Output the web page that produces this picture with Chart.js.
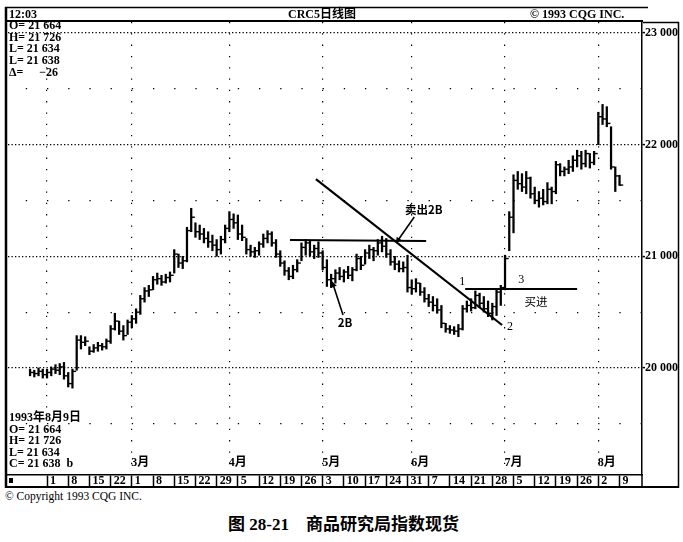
<!DOCTYPE html>
<html>
<head>
<meta charset="utf-8">
<script src="https://cdn.jsdelivr.net/npm/chart.js@4.4.0/dist/chart.umd.min.js"></script>
<style>
  body { margin: 0; background: #fff; width: 683px; height: 542px; overflow: hidden; position: relative; }
  #chart { position: absolute; left: 0; top: 0; }
  #copy { position: absolute; left: 5px; top: 490px; font: 11.5px "Liberation Serif", serif; color: #000; }
  #cap { position: absolute; left: 228px; top: 510px; font: bold 17px "Liberation Serif", "Noto Sans CJK SC", serif; color: #000; white-space: pre; }
</style>
</head>
<body>
<canvas id="chart" width="683" height="490"></canvas>
<div id="copy">© Copyright 1993 CQG INC.</div>
<div id="cap">图 28-21    商品研究局指数现货</div>
<script>
// week labels under the chart (Mondays), months, price levels
const weekLabels = ['1', '8', '15', '22', '1', '8', '15', '22', '29', '5', '12', '19', '26',
    '3', '10', '17', '24', '31', '7', '14', '21', '28', '5', '12', '19', '26', '2', '9'];
const monthNames = ['3月', '4月', '5月', '6月', '7月', '8月'];
const monthStartDays = [0, 20, 43, 65, 86, 108, 130];
const priceTicks = [20000, 21000, 22000, 23000];
const halfTicks = [19500, 20500, 21500, 22500];

// daily bars, trading day 0 = 1 Feb 1993, first bar is 26 Jan
const firstDay = -4;
const highs = [19990, 19980, 20000, 19990,
    19990, 20010, 20030, 20040, 20050,
    19960, 19990, 20290, 20290, 20280,
    20190, 20210, 20230, 20220, 20260,
    20380, 20490, 20420, 20380, 20430,
    20470, 20530, 20650, 20720, 20740,
    20820, 20850, 20830, 20840, 20860,
    21060, 21020, 21000, 21260, 21430,
    21300, 21280, 21250, 21220, 21190,
    21150, 21180, 21280, 21400, 21380,
    21370, 21280, 21160, 21100, 21080,
    21130, 21200, 21230, 21220, 21150,
    21050, 20960, 20900, 20920, 20970,
    21120, 21150, 21140, 21100, 21130,
    21050, 20970, 20840, 20880, 20900,
    20880, 20910, 20900, 21020, 21000,
    21060, 21100, 21080, 21150, 21180,
    21160, 21060, 21000, 20960, 20950,
    21010, 20790, 20800, 20760, 20720,
    20660, 20640, 20620, 20560, 20400,
    20380, 20370, 20390, 20560, 20600,
    20620, 20690, 20670, 20640, 20600,
    20580, 20700, 20740, 21010, 21400,
    21730, 21760, 21740, 21760, 21710,
    21620, 21580, 21600, 21660, 21620,
    21850, 21830, 21800, 21860, 21900,
    21950, 21940, 21950, 21920, 21940,
    22290, 22360, 22340, 22160, 21800,
    21726];
const lows = [19930, 19920, 19930, 19910,
    19910, 19930, 19950, 19940, 19900,
    19830, 19820, 19980, 20170, 20200,
    20120, 20140, 20150, 20160, 20170,
    20220, 20340, 20300, 20250, 20300,
    20360, 20400, 20480, 20590, 20640,
    20700, 20750, 20740, 20760, 20770,
    20850, 20900, 20890, 20950, 21220,
    21170, 21150, 21120, 21080, 21050,
    21000, 21020, 21120, 21220, 21250,
    21150, 21140, 21020, 21000, 20990,
    21010, 21080, 21120, 21090, 20990,
    20910, 20830, 20790, 20800, 20860,
    20960, 21010, 21000, 20980, 20990,
    20880, 20730, 20720, 20760, 20790,
    20770, 20800, 20780, 20870, 20880,
    20930, 20980, 20960, 21010, 21040,
    20990, 20920, 20880, 20860, 20860,
    20680, 20660, 20680, 20650, 20590,
    20550, 20510, 20490, 20360, 20320,
    20310, 20300, 20280, 20340, 20500,
    20510, 20530, 20540, 20500, 20460,
    20430, 20470, 20560, 20700, 21050,
    21210, 21600, 21580, 21560, 21520,
    21470, 21440, 21460, 21470, 21470,
    21560, 21720, 21720, 21740, 21760,
    21800, 21780, 21800, 21790, 21820,
    22000, 22180, 22160, 21780, 21580,
    21634];
const closes = [19960, 19950, 19970, 19940,
    19960, 19990, 19980, 20010, 19930,
    19860, 19970, 20250, 20230, 20240,
    20150, 20180, 20200, 20190, 20240,
    20350, 20420, 20330, 20290, 20410,
    20440, 20500, 20620, 20690, 20700,
    20790, 20800, 20770, 20810, 20830,
    21020, 20940, 20960, 21230, 21350,
    21220, 21200, 21160, 21130, 21100,
    21060, 21150, 21250, 21330, 21300,
    21200, 21170, 21060, 21040, 21050,
    21110, 21160, 21200, 21120, 21020,
    20940, 20870, 20820, 20880, 20940,
    21080, 21120, 21040, 21070, 21030,
    20900, 20790, 20800, 20850, 20820,
    20860, 20830, 20880, 20980, 20920,
    21030, 21060, 21050, 21120, 21090,
    21020, 20950, 20930, 20890, 20900,
    20720, 20710, 20760, 20680, 20620,
    20590, 20560, 20520, 20400, 20350,
    20340, 20330, 20350, 20530, 20560,
    20540, 20650, 20580, 20530, 20490,
    20550, 20680, 20720, 20980, 21350,
    21680, 21650, 21620, 21700, 21560,
    21500, 21520, 21490, 21600, 21580,
    21820, 21760, 21780, 21800, 21860,
    21900, 21830, 21920, 21840, 21920,
    22250, 22230, 22190, 21800, 21720,
    21638];

// hand-drawn lines on the chart, [day, price]
const downTrend = [[63.4, 21692], [107.3, 20385]];
const resistance = [[57.3, 21146], [89.4, 21137]];
const breakLine = [[98.6, 20707], [125, 20707]];
const sellArrow = [[86.6, 21352], [82.8, 21146]];
const twoBArrow = [[69.8, 20475], [67.5, 20743]];

const notes = [
    { text: '卖出2B', day: 84.4, price: 21415, font: 'bold 11.5px "Noto Sans CJK SC"', align: 'left' },
    { text: '2B', day: 70.3, price: 20403, font: 'bold 11.5px "Noto Sans CJK SC"', align: 'center' },
    { text: '1', day: 97.9, price: 20775, font: '12px "Liberation Serif"', align: 'center' },
    { text: '2', day: 109.2, price: 20367, font: '12px "Liberation Serif"', align: 'center' },
    { text: '3', day: 111.8, price: 20785, font: '12px "Liberation Serif"', align: 'center' },
    { text: '买进', day: 115.3, price: 20593, font: '11.5px "Noto Sans CJK SC"', align: 'center' },
];

const topReadout = ['O= 21 664', 'H= 21 726', 'L= 21 634', 'L= 21 638'];
const bottomReadout = ['1993年8月9日', 'O= 21 664', 'H= 21 726', 'L= 21 634', 'C= 21 638  b'];

const closeOffset = 0.42;
const toPts = (arr) => arr.map(p => ({ x: p[0], y: p[1] }));

const barData = highs.map((h, k) => ({ x: k + firstDay, y: [lows[k], h] }));
const closeData = closes.map((c, k) => ({ x: k + firstDay + closeOffset, y: c }));

function arrowRotation(ctx) {
    const d = ctx.dataset.data;
    const xs = ctx.chart.scales.x, ys = ctx.chart.scales.y;
    const dx = xs.getPixelForValue(d[1].x) - xs.getPixelForValue(d[0].x);
    const dy = ys.getPixelForValue(d[1].y) - ys.getPixelForValue(d[0].y);
    return Math.atan2(dx, -dy) * 180 / Math.PI;
}

function lineSet(pts, width) {
    return {
        type: 'line', data: toPts(pts), borderColor: '#000', borderWidth: width,
        pointRadius: 0, fill: false, tension: 0,
    };
}
function arrowSet(pts) {
    return {
        type: 'line', data: toPts(pts), borderColor: '#000', backgroundColor: '#000',
        borderWidth: 1.6, pointRadius: [0, 3.6], pointStyle: 'triangle',
        pointRotation: arrowRotation, pointBorderWidth: 0, fill: false,
    };
}

const serif = '"Liberation Serif", "Noto Sans CJK SC", serif';

const decor = {
    id: 'decor',
    afterDraw(chart) {
        const { ctx, scales: { x, y } } = chart;
        const line = (x1, y1, x2, y2) => { ctx.beginPath(); ctx.moveTo(x1, y1); ctx.lineTo(x2, y2); ctx.stroke(); };
        ctx.save();
        ctx.strokeStyle = '#000';
        ctx.fillStyle = '#000';
        // frame
        ctx.lineWidth = 2.5; line(6, 7, 6, 488);
        ctx.lineWidth = 1.5; line(5, 7.5, 648, 7.5);
        ctx.lineWidth = 2; line(5, 21, 643, 21);
        ctx.lineWidth = 1.5;
        line(643, 22.5, 679, 22.5);
        line(678.5, 22, 678.5, 488);
        line(x.right, x.bottom - 12, x.right, 487);
        ctx.lineWidth = 2; line(5, 487, 679, 487);
        ctx.fillRect(9, 478, 4, 5);

        // title bar
        ctx.textBaseline = 'middle';
        ctx.font = 'bold 12px ' + serif;
        ctx.textAlign = 'left';
        ctx.fillText('12:03', 9, 14.5);
        ctx.textAlign = 'center';
        ctx.fillText('CRC5日线图', 322, 14.5);
        ctx.textAlign = 'left';
        ctx.fillText('© 1993 CQG INC.', 530, 14.5);

        // quote readouts
        topReadout.forEach((t, k) => ctx.fillText(t, 9, 26 + k * 11.7));
        ctx.fillText('Δ=', 9, 26 + 4 * 11.7);
        ctx.textAlign = 'right';
        ctx.fillText('−26', 58, 26 + 4 * 11.7);
        ctx.textAlign = 'left';
        bottomReadout.forEach((t, k) => ctx.fillText(t, 9, 418 + k * 11.5));

        // month names
        ctx.textAlign = 'center';
        monthNames.forEach((m, k) => ctx.fillText(m, x.getPixelForValue(monthStartDays[k + 1] + 2), 463));

        // notes on the chart
        notes.forEach(n => {
            ctx.font = n.font;
            ctx.textAlign = n.align;
            ctx.fillText(n.text, x.getPixelForValue(n.day), y.getPixelForValue(n.price));
        });
        ctx.restore();
    }
};

new Chart(document.getElementById('chart'), {
    type: 'line',
    data: {
        datasets: [
            {
                type: 'bar', data: barData, backgroundColor: '#000', borderWidth: 0,
                barThickness: 1.6, grouped: false,
            },
            {
                type: 'line', data: closeData, showLine: false, pointStyle: 'line',
                pointRadius: 1.9, pointBorderWidth: 1.4, borderColor: '#000', backgroundColor: '#000',
            },
            lineSet(downTrend, 2.2),
            lineSet(resistance, 2.2),
            lineSet(breakLine, 2),
            arrowSet(sellArrow),
            arrowSet(twoBArrow),
        ],
    },
    options: {
        responsive: false,
        animation: false,
        events: [],
        layout: { padding: { left: 8, top: 22, right: 5, bottom: 3 } },
        plugins: { legend: { display: false }, tooltip: { enabled: false } },
        scales: {
            x: {
                type: 'linear', position: 'bottom', min: -9.2, max: 140.3, offset: false,
                afterBuildTicks: (s) => { s.ticks = weekLabels.map((_, k) => ({ value: k * 5 })); },
                afterFit: (s) => { s.height = 12; },
                ticks: {
                    autoSkip: false, maxRotation: 0, align: 'start', padding: -12, color: '#000',
                    font: { family: serif, size: 12, weight: 'bold', lineHeight: 1 },
                    callback: (v, k) => ' ' + weekLabels[k],
                },
                grid: {
                    offset: false, drawOnChartArea: false, drawTicks: true, tickLength: 12,
                    tickColor: '#000', tickWidth: 1.5,
                },
                border: { display: true, color: '#000', width: 1.5 },
            },
            xm: {
                type: 'linear', position: 'bottom', min: -9.2, max: 140.3, offset: false,
                afterBuildTicks: (s) => { s.ticks = monthStartDays.map(v => ({ value: v })); },
                afterFit: (s) => { s.height = 0; },
                ticks: { display: false },
                grid: { offset: false, drawTicks: false, color: '#000', lineWidth: 1.2 },
                border: { display: false, dash: [1.3, 10] },
            },
            y: {
                type: 'linear', position: 'right', min: 19042, max: 23098,
                afterBuildTicks: (s) => { s.ticks = priceTicks.map(v => ({ value: v })); },
                afterFit: (s) => { s.width = 36; },
                ticks: {
                    padding: 0, color: '#000',
                    font: { family: serif, size: 12, weight: 'bold' },
                    callback: (v) => String(v).replace(/(\d+)(\d{3})$/, '$1 $2'),
                },
                grid: { color: '#000', lineWidth: 1.2, tickLength: 3, tickColor: '#000', tickWidth: 1.5 },
                border: { display: true, color: '#000', width: 1.5, dash: [1.3, 2.2] },
            },
            ym: {
                type: 'linear', position: 'right', min: 19042, max: 23098,
                afterBuildTicks: (s) => { s.ticks = halfTicks.map(v => ({ value: v })); },
                afterFit: (s) => { s.width = 0; },
                ticks: { display: false },
                grid: { drawTicks: false, color: '#000', lineWidth: 1.2 },
                border: { display: false, dash: [1.3, 19.9], dashOffset: 3.4 },
            },
        },
    },
    plugins: [decor],
});
</script>
</body>
</html>
